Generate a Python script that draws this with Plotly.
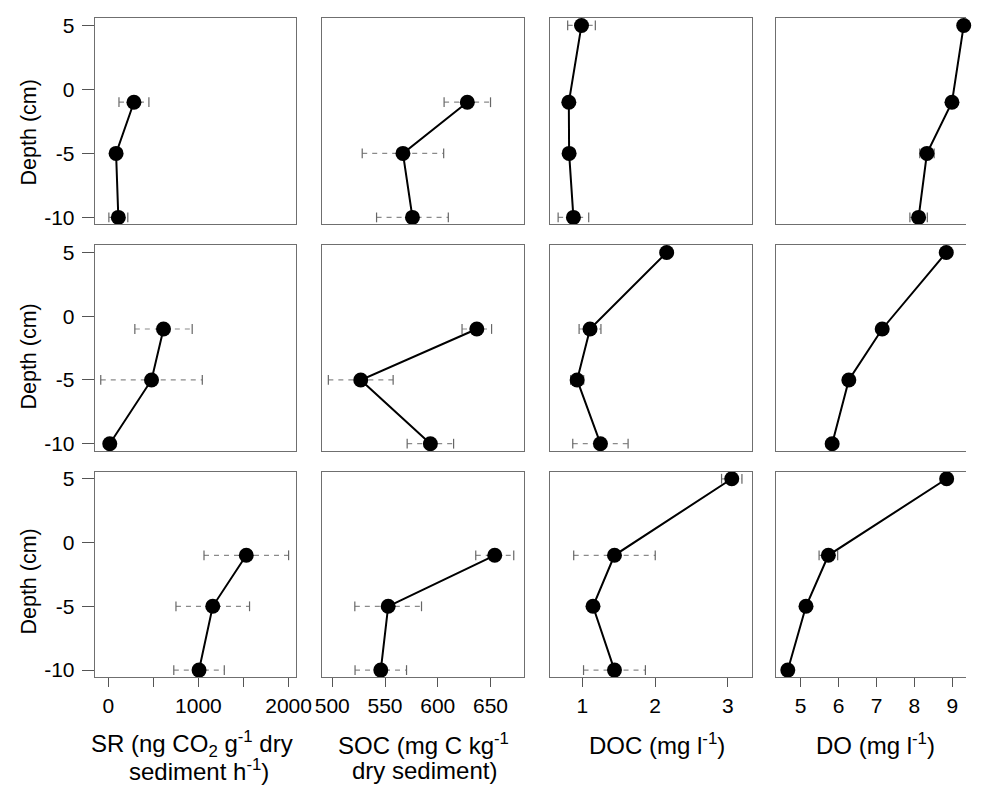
import plotly.graph_objects as go

# ---------------- data ----------------
depths = [5, -1, -5, -10]
depth_ticks = [5, 0, -5, -10]
depth_ticktext = ["5", "0", "-5", "-10"]

# one list per row (three profiles), values at depths 5, -1, -5, -10 cm
sr_mean = [[None, 285, 87, 112], [None, 613, 480, 17], [None, 1531, 1159, 1007]]
sr_err = [[None, 166, 30, 105], [None, 318, 563, 40], [None, 469, 408, 280]]

soc_mean = [[None, 628, 567, 576], [None, 637, 527, 593], [None, 654, 553, 546]]
soc_err = [[None, 22, 38.6, 34], [None, 14, 30.7, 22], [None, 18, 31.6, 24.4]]

doc_mean = [[0.99, 0.816, 0.82, 0.879], [2.16, 1.107, 0.93, 1.25], [3.054, 1.443, 1.148, 1.443]]
doc_err = [[0.19, 0.04, 0.04, 0.21], [0.05, 0.15, 0.09, 0.38], [0.14, 0.56, 0.05, 0.425]]

do_mean = [[9.3, 8.99, 8.33, 8.11], [8.84, 7.15, 6.27, 5.83], [8.85, 5.73, 5.14, 4.66]]
do_err = [[0.1, 0.1, 0.19, 0.23], [0.1, 0.1, 0.1, 0.1], [0.1, 0.245, 0.1, 0.1]]

sr_ticks = [0, 1000, 2000]
sr_minor_ticks = [500, 1500]
soc_ticks = [500, 550, 600, 650]
doc_ticks = [1, 2, 3]
do_ticks = [5, 6, 7, 8, 9]

titles_line1 = ["SR (ng CO<sub>2</sub> g<sup>-1</sup> dry", "SOC (mg C kg<sup>-1</sup>",
                "DOC (mg l<sup>-1</sup>)", "DO (mg l<sup>-1</sup>)"]
titles_line2 = ["sediment h<sup>-1</sup>)", "dry sediment)", "", ""]
depth_title = "Depth (cm)"

# ---------------- layout geometry (page pixels) ----------------
W, H = 982, 788
col_px = [(90, 296), (323, 529.7), (556, 762.7), (787.3, 982)]
row_px = [(14.3, 222.7), (243.7, 451.3), (472.3, 680)]
x_ranges = [[-148, 2083], [490.7, 682], [0.557, 3.33], [4.345, 9.36]]
y_range = [-10.55, 5.57]


def fx(px):
    return px / W


def fy(py):
    return 1 - py / H


means = [sr_mean, soc_mean, doc_mean, do_mean]
errs = [sr_err, soc_err, doc_err, do_err]
tickvals = [sr_ticks, soc_ticks, doc_ticks, do_ticks]

FONT = "Liberation Sans, Arial, sans-serif"
BOX = "#6f6f6f"

fig = go.Figure()
layout = dict(
    width=W, height=H, autosize=False,
    margin=dict(l=0, r=0, t=0, b=0, pad=0),
    paper_bgcolor="white", plot_bgcolor="white",
    showlegend=False,
    font=dict(family=FONT, size=21, color="black"),
)

annotations = []
for r in range(3):
    for c in range(4):
        i = r * 4 + c + 1
        xs = "" if i == 1 else str(i)
        xref, yref = "x" + xs, "y" + xs
        m = means[c][r]
        e = errs[c][r]
        ex, ey, cx, cy = [], [], [], []
        px, py = [], []
        for d, mv, ev in zip(depths, m, e):
            if mv is None:
                continue
            px.append(mv)
            py.append(d)
            ex += [mv - ev, mv + ev, None]
            ey += [d, d, None]
            cx += [mv - ev, mv + ev]
            cy += [d, d]
        fig.add_trace(go.Scatter(x=ex, y=ey, mode="lines", xaxis=xref, yaxis=yref,
                                 line=dict(color="#8a8a8a", width=1.2, dash="5px,5px"),
                                 cliponaxis=False, hoverinfo="skip"))
        fig.add_trace(go.Scatter(x=cx, y=cy, mode="markers", xaxis=xref, yaxis=yref,
                                 marker=dict(symbol="line-ns-open", size=7, color="#666666",
                                             line=dict(color="#666666", width=1.2)),
                                 cliponaxis=False, hoverinfo="skip"))
        fig.add_trace(go.Scatter(x=px, y=py, mode="lines+markers", xaxis=xref, yaxis=yref,
                                 line=dict(color="black", width=2),
                                 marker=dict(color="black", size=15),
                                 cliponaxis=False))
        x0, x1 = col_px[c]
        y0, y1 = row_px[r]
        bottom = r == 2
        xa = dict(
            domain=[fx(x0), min(1.0, fx(x1))], range=x_ranges[c], anchor="y" + xs,
            showline=True, mirror=True, linecolor=BOX, linewidth=1.3,
            showgrid=False, zeroline=False,
            ticks="outside" if bottom else "", ticklen=9, tickwidth=1.2, tickcolor="#555555",
            showticklabels=bottom, tickvals=tickvals[c], ticktext=[str(v) for v in tickvals[c]],
            tickfont=dict(size=21, family=FONT), ticklabelstandoff=1,
        )
        if c == 0 and bottom:
            xa["minor"] = dict(tickvals=sr_minor_ticks, ticks="outside", ticklen=9,
                               tickwidth=1.2, tickcolor="#555555", showgrid=False)
        layout["xaxis" + xs] = xa
        left = c == 0
        layout["yaxis" + xs] = dict(
            domain=[fy(y1), fy(y0)], range=y_range, anchor="x" + xs,
            showline=True, mirror=(c != 3), linecolor=BOX, linewidth=1.3,
            showgrid=False, zeroline=False,
            ticks="outside" if left else "", ticklen=12, tickwidth=1.2, tickcolor="#555555",
            showticklabels=left, tickvals=depth_ticks, ticktext=depth_ticktext,
            tickfont=dict(size=21, family=FONT), ticklabelstandoff=3,
        )

# Depth titles
depth_centers = [129.3, 355.7, 583]
for yc in depth_centers:
    annotations.append(dict(text=depth_title, x=fx(23), y=fy(yc), xref="paper", yref="paper",
                            showarrow=False, textangle=-90, xanchor="center", yanchor="middle",
                            font=dict(size=21.5, family=FONT)))

title_x1 = [189, 427, 666, 889]
title_x2 = [196.8, 428, 666, 889]
for c in range(4):
    annotations.append(dict(text=titles_line1[c], x=fx(title_x1[c]), y=fy(747.5),
                            xref="paper", yref="paper", showarrow=False,
                            xanchor="center", yanchor="middle", font=dict(size=24, family=FONT)))
    if titles_line2[c]:
        annotations.append(dict(text=titles_line2[c], x=fx(title_x2[c]), y=fy(774),
                                xref="paper", yref="paper", showarrow=False,
                                xanchor="center", yanchor="middle", font=dict(size=24, family=FONT)))

layout["annotations"] = annotations
fig.update_layout(**layout)
fig.write_html("out.html", config={"displayModeBar": False},
               post_script="document.body.style.margin='0px';document.body.style.overflow='hidden';")
